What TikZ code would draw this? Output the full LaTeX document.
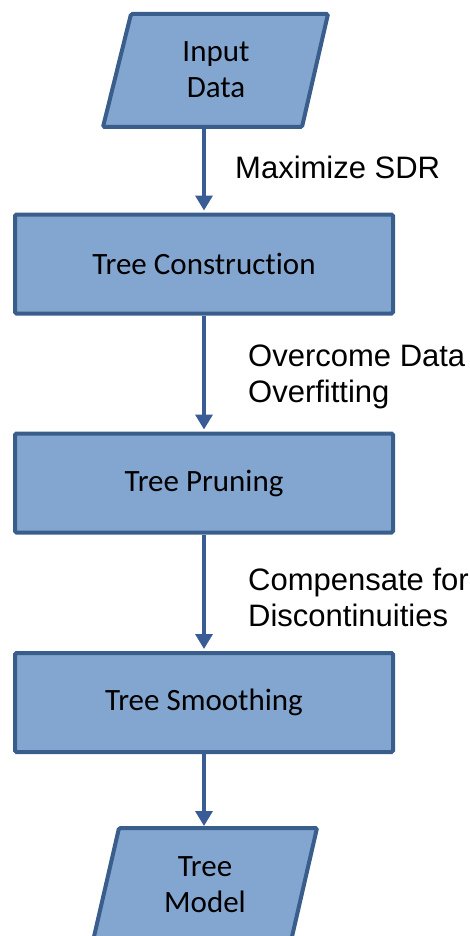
\documentclass[tikz,border=0pt]{standalone}
\usepackage{fontspec}
\setmainfont{Carlito}[Ligatures={NoCommon}]
\newfontfamily\arialf{Liberation Sans}[Ligatures={NoCommon}]
\usetikzlibrary{arrows.meta}
\definecolor{boxfill}{RGB}{131,166,208}
\definecolor{boxline}{RGB}{58,94,140}
\definecolor{arrowc}{RGB}{58,92,150}
\begin{document}
\begin{tikzpicture}[x=1pt,y=-1pt,
  box/.style={draw=boxline, fill=boxfill, line width=4pt, rounded corners=1.5pt,
    minimum width=378pt, minimum height=99pt, inner sep=0pt,
    font=\fontsize{31}{36}\selectfont},
  para/.style={draw=boxline, fill=boxfill, line width=4pt, rounded corners=1.5pt},
  ptext/.style={align=center, inner sep=0pt, font=\fontsize{31}{36}\selectfont},
  lab/.style={anchor=west, align=left, inner sep=0pt, font=\arialf\fontsize{31}{36}\selectfont},
  arr/.style={draw=arrowc, line width=3.5pt, -{Triangle[width=17pt,length=15pt]}, shorten >=2pt}
]
\useasboundingbox (0,0) rectangle (469,936);
\clip (0,0) rectangle (469,936);
% input
\draw[para] (131,14) -- (328,14) -- (302,127) -- (103,127) -- cycle;
\node[ptext] (in) at (216,70) {Input\\Data};
\coordinate (inb) at (204,127);
% boxes
\node[box] (c) at (204,264) {Tree Construction};
\node[box] (p) at (204,483) {Tree Pruning};
\node[box] (s) at (204,702.5) {Tree Smoothing};
% output
\draw[para] (119,828) -- (317,828) -- (291,941) -- (93,941) -- cycle;
\node[ptext] (out) at (205,884.5) {Tree\\Model};
\coordinate (outt) at (204,828);
% arrows
\draw[arr] (inb) -- (c.north);
\draw[arr] (c.south) -- (p.north);
\draw[arr] (p.south) -- (s.north);
\draw[arr] (s.south) -- (outt);
% labels
\node[lab] (l1) at (235,167) {Maximize SDR};
\node[lab] (l2) at (248,377) {Overcome Data\\Overfitting};
\node[lab] (l3) at (248,597) {Compensate for\\Discontinuities};
\end{tikzpicture}
\end{document}
